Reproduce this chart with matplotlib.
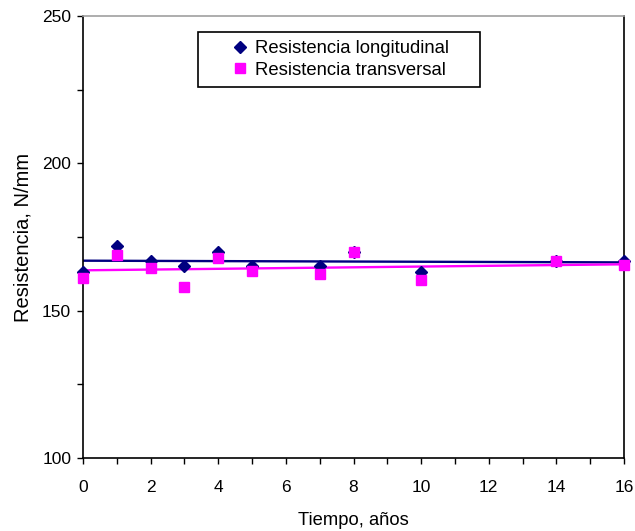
import matplotlib
matplotlib.use("Agg")
import matplotlib.pyplot as plt
from matplotlib.patches import Rectangle
import numpy as np

plt.rcParams['font.family'] = ['Liberation Sans', 'DejaVu Sans']

years = [0, 1, 2, 3, 4, 5, 7, 8, 10, 14, 16]
longitudinal = [163, 172, 167, 165, 170, 165, 165, 170, 163, 167, 167]
transversal = [161, 169, 164.5, 158, 168, 163.5, 162.5, 170, 160.5, 167, 165.5]

fig = plt.figure(figsize=(6.35, 5.31), dpi=100)
ax = fig.add_axes([0.1307, 0.1375, 0.852, 0.8324])

navy = '#000080'
magenta = '#ff00ff'

x = np.array(years, dtype=float)
xl = np.array([0, 16])
pl = np.polyfit(x, longitudinal, 1)
pt = np.polyfit(x, transversal, 1)

ax.plot(xl, np.polyval(pl, xl), color=navy, lw=1.7, zorder=2)
ax.plot(xl, np.polyval(pt, xl), color=magenta, lw=1.7, zorder=2)
ax.plot(years, longitudinal, 'D', color=navy, ms=6.5, ls='none', zorder=3,
        label='Resistencia longitudinal', clip_on=False)
ax.plot(years, transversal, 's', color=magenta, ms=7.8, ls='none', zorder=4,
        label='Resistencia transversal', clip_on=False)

ax.set_xlim(0, 16)
ax.set_ylim(100, 250)
ax.set_xticks(range(0, 17, 2))
ax.set_xticks(range(0, 17, 1), minor=True)
ax.set_yticks([100, 150, 200, 250])
ax.set_yticks([125, 175, 225], minor=True)
ax.tick_params(axis='x', which='both', direction='out', length=4, width=1, labelsize=12.5, pad=12)
ax.tick_params(axis='y', which='both', direction='out', length=4.5, width=1, labelsize=12.5, pad=4)

for s in ['left', 'bottom', 'right']:
    ax.spines[s].set_color('black')
    ax.spines[s].set_linewidth(1.2)
ax.spines['top'].set_color('#a0a0a0')
ax.spines['top'].set_linewidth(1.2)

ax.set_xlabel('Tiempo, años', fontsize=13.2, labelpad=12)
ax.set_ylabel('Resistencia, N/mm', fontsize=14.5, labelpad=7)

# legend box
ax.add_patch(Rectangle((0.2126, 0.8394), 0.5212, 0.1244, transform=ax.transAxes,
                       facecolor='white', edgecolor='black', lw=1.2, zorder=5,
                       clip_on=False))
leg = ax.legend(loc='center left', bbox_to_anchor=(0.2736, 0.9016), fontsize=13.3,
                frameon=False, borderpad=0, handletextpad=0.3, handlelength=1.0,
                labelspacing=0.22, borderaxespad=0)
leg.set_zorder(6)

fig.savefig('out.png', dpi=100)
